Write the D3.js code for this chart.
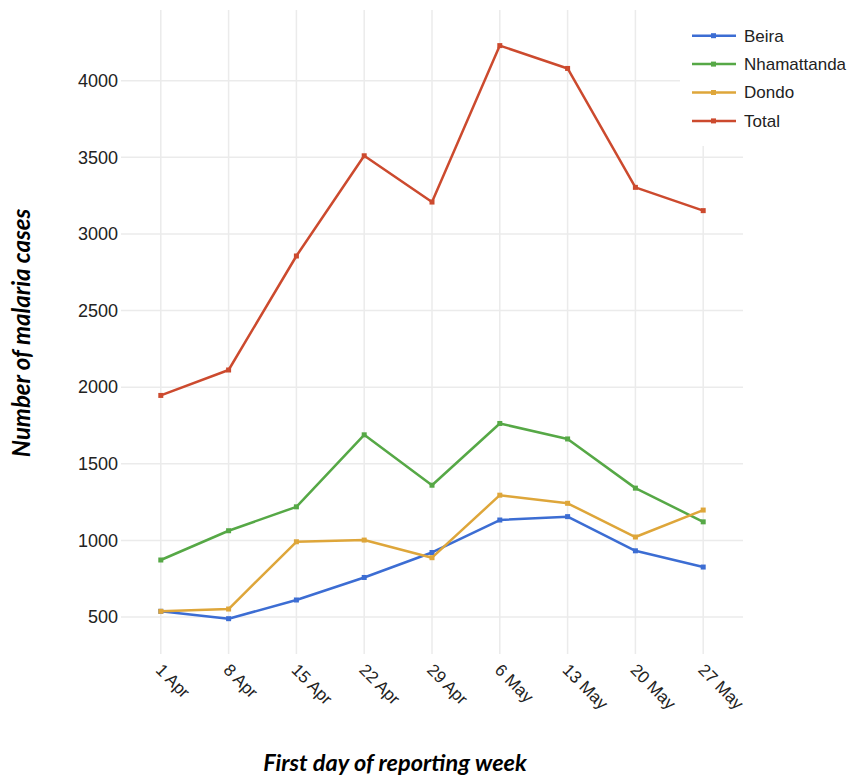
<!DOCTYPE html>
<html>
<head>
<meta charset="utf-8">
<script src="https://cdn.jsdelivr.net/npm/d3@7"></script>
<style>
  body { margin: 0; background: #fff; }
  .tick-label { font-family: "Liberation Sans", Arial, sans-serif; fill: #222; }
  .axis-title { font-family: Lato, "Open Sans", sans-serif; font-weight: bold; font-style: italic; fill: #000; }
</style>
</head>
<body>
<div id="chart"></div>
<script>
const weeks = ['1 Apr', '8 Apr', '15 Apr', '22 Apr', '29 Apr', '6 May', '13 May', '20 May', '27 May'];
const beira = [537, 489, 611, 758, 921, 1133, 1155, 932, 826];
const nhamattanda = [872, 1063, 1219, 1689, 1360, 1763, 1662, 1341, 1121];
const dondo = [537, 552, 991, 1002, 887, 1295, 1242, 1022, 1198];
const total = [1946, 2112, 2856, 3510, 3208, 4229, 4080, 3304, 3152];
const seriesNames = ['Beira', 'Nhamattanda', 'Dondo', 'Total'];
const yTicks = [500, 1000, 1500, 2000, 2500, 3000, 3500, 4000];

const colors = ['#3c6dd3', '#56a846', '#dea63a', '#cc4a2e'];
const series = [beira, nhamattanda, dondo, total].map((vals, i) => ({
  name: seriesNames[i],
  color: colors[i],
  values: vals.map((v, j) => ({ week: weeks[j], value: v }))
}));

const w = 853, h = 776;
const gridLeft = 121, gridRight = 743, gridTop = 10, gridBottom = 654;

const svg = d3.select('#chart').append('svg')
  .attr('width', w)
  .attr('height', h);

const xScale = d3.scalePoint()
  .domain(weeks)
  .range([gridLeft, gridRight])
  .padding(0.587);

const yScale = d3.scaleLinear()
  .domain([500, 4000])
  .range([617, 80.7]);

// grid
svg.append('g')
  .selectAll('line')
  .data(yTicks)
  .join('line')
  .attr('x1', gridLeft).attr('x2', gridRight)
  .attr('y1', d => yScale(d)).attr('y2', d => yScale(d))
  .attr('stroke', '#ebebeb')
  .attr('stroke-width', 1.5);

svg.append('g')
  .selectAll('line')
  .data(weeks)
  .join('line')
  .attr('x1', d => xScale(d)).attr('x2', d => xScale(d))
  .attr('y1', gridTop).attr('y2', gridBottom)
  .attr('stroke', '#ebebeb')
  .attr('stroke-width', 1.5);

// y tick labels
svg.append('g')
  .selectAll('text')
  .data(yTicks)
  .join('text')
  .attr('class', 'tick-label')
  .attr('x', 118)
  .attr('y', d => yScale(d))
  .attr('dy', '0.35em')
  .attr('text-anchor', 'end')
  .style('font-size', '18px')
  .text(d => d);

// x tick labels, rotated
svg.append('g')
  .selectAll('text')
  .data(weeks)
  .join('text')
  .attr('class', 'tick-label')
  .attr('transform', d => 'translate(' + (xScale(d) - 6) + ',' + 671 + ') rotate(45)')
  .attr('text-anchor', 'start')
  .style('font-size', '17px')
  .text(d => d);

// lines
const line = d3.line()
  .x(d => xScale(d.week))
  .y(d => yScale(d.value));

const sg = svg.append('g')
  .selectAll('g')
  .data(series)
  .join('g');

sg.append('path')
  .attr('d', d => line(d.values))
  .attr('fill', 'none')
  .attr('stroke', d => d.color)
  .attr('stroke-width', 2.5)
  .attr('stroke-linejoin', 'round');

sg.selectAll('rect')
  .data(d => d.values.map(v => ({ ...v, color: d.color })))
  .join('rect')
  .attr('x', d => xScale(d.week) - 2.5)
  .attr('y', d => yScale(d.value) - 2.5)
  .attr('width', 5)
  .attr('height', 5)
  .attr('fill', d => d.color);

// legend with white background
const legend = svg.append('g');
legend.append('rect')
  .attr('x', 680).attr('y', 0)
  .attr('width', 173).attr('height', 146)
  .attr('fill', '#fff');

const item = legend.selectAll('g')
  .data(series)
  .join('g')
  .attr('transform', (d, i) => 'translate(0,' + (35.7 + i * 28.4) + ')');

item.append('line')
  .attr('x1', 692).attr('x2', 736)
  .attr('stroke', d => d.color)
  .attr('stroke-width', 2.5);

item.append('rect')
  .attr('x', 711).attr('y', -2.5)
  .attr('width', 5).attr('height', 5)
  .attr('fill', d => d.color);

item.append('text')
  .attr('class', 'tick-label')
  .attr('x', 744)
  .attr('dy', '0.35em')
  .style('font-size', '17px')
  .text(d => d.name);

// axis titles
svg.append('text')
  .attr('class', 'axis-title')
  .attr('transform', 'translate(30,333) rotate(-90)')
  .attr('text-anchor', 'middle')
  .style('font-size', '24px')
  .text('Number of malaria cases');

svg.append('text')
  .attr('class', 'axis-title')
  .attr('x', 395)
  .attr('y', 771)
  .attr('text-anchor', 'middle')
  .style('font-size', '23.5px')
  .text('First day of reporting week');
</script>
</body>
</html>
